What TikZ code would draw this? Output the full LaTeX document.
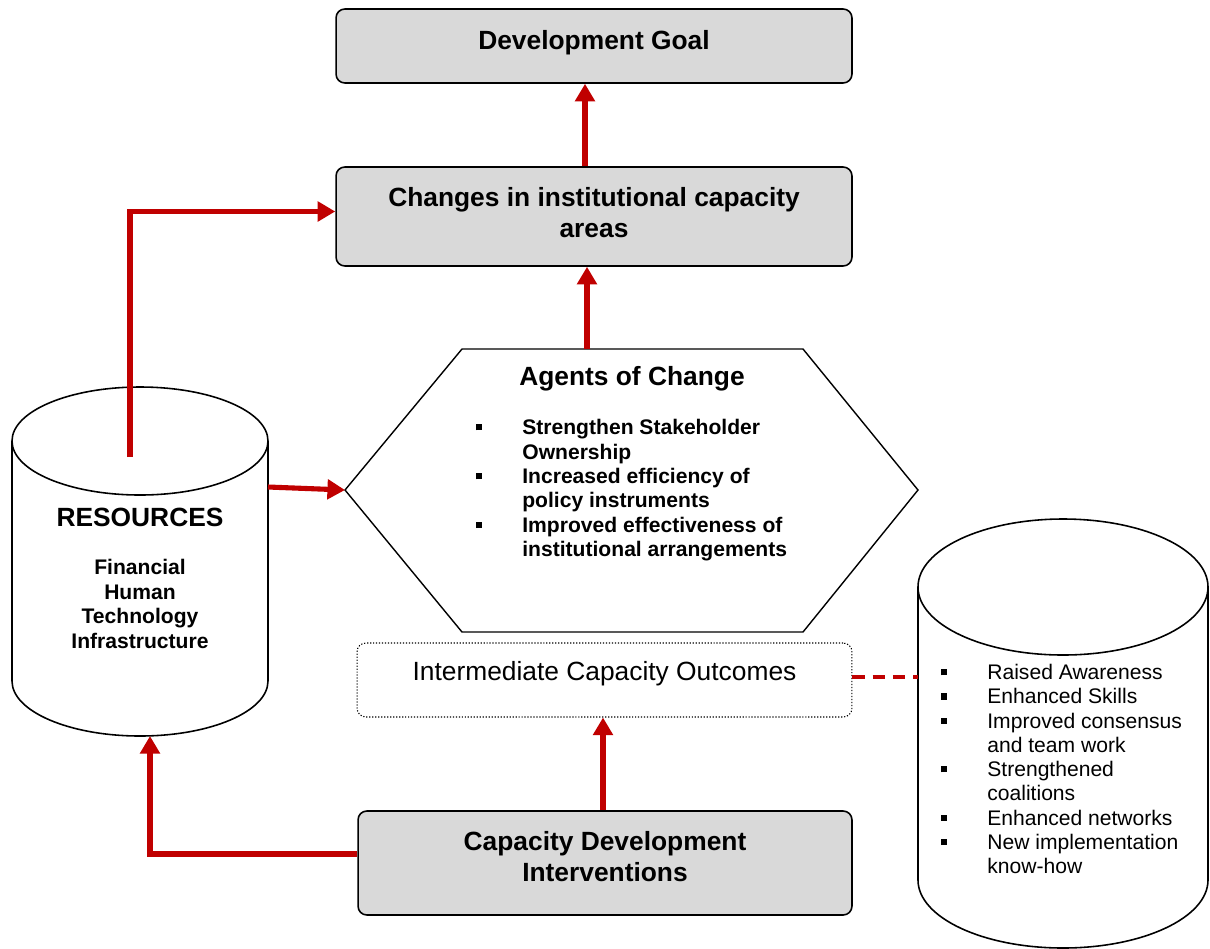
\documentclass[tikz,border=0pt]{standalone}
\usepackage{fontspec}
\setmainfont{Liberation Sans}
\usepackage{xcolor}
\usetikzlibrary{shapes.geometric,arrows.meta,positioning,calc}
\definecolor{flowred}{HTML}{C00000}
\definecolor{boxgray}{HTML}{D9D9D9}
\setlength{\parindent}{0pt}
\newcommand{\sqb}{\leavevmode\llap{\rule[2.4pt]{3.6pt}{3.6pt}\hspace{23pt}}}
\tikzset
{
    graybox/.style  = {rectangle, draw=black, line width=0.9pt, fill=boxgray, rounded corners=5pt, align=center, minimum width=10.32cm, font=\bfseries\fontsize{15}{17.6}\selectfont},
    interbox/.style = {rectangle, draw=black, line width=0.6pt, dash pattern=on 0.7pt off 1pt, rounded corners=5pt, minimum width=9.9cm, minimum height=1.48cm},
    cylline/.style  = {draw=black, line width=0.9pt},
    hexline/.style  = {draw=black, line width=0.8pt},
    redarrow/.style = {draw=flowred, line width=2.9pt, -{Triangle[length=10pt,width=11pt]}},
    reddash/.style  = {draw=flowred, line width=1.8pt, dash pattern=on 7pt off 4.5pt},
    bigbold/.style  = {font=\bfseries\fontsize{15}{18}\selectfont, inner sep=0pt},
    smallbold/.style = {font=\bfseries\fontsize{12}{13.9}\selectfont, inner sep=0pt},
    smallplain/.style = {font=\fontsize{12}{13.8}\selectfont, inner sep=0pt}
}

\begin{document}
\begin{tikzpicture}[x=0.02cm, y=-0.02cm]
    \useasboundingbox (0,0) rectangle (1210,948);

    % boxes
    \node [graybox, minimum height=1.48cm, text depth=6.6pt] (goal) at (594,46) {Development Goal};
    \node [graybox, minimum height=1.98cm, text depth=4.5pt] (changes) at (594,216.5) {Changes in institutional capacity\\areas};
    \node [graybox, minimum height=2.08cm, minimum width=9.88cm, text depth=7.4pt] (cdi) at (605,863) {Capacity Development\\Interventions};
    \node [interbox] (interm) at (604.5,680) {};
    \node [font=\fontsize{15}{18}\selectfont, inner sep=0pt] (intertext) at (604.5,674) {Intermediate Capacity Outcomes};

    % agents of change
    \coordinate (agL)  at (345,490);
    \coordinate (agTL) at (462,349);
    \coordinate (agTR) at (803,349);
    \coordinate (agR)  at (918,490);
    \coordinate (agBR) at (803,632);
    \coordinate (agBL) at (462,632);
    \coordinate (agtop) at (587,349);
    \draw [hexline] (agL) -- (agTL) -- (agTR) -- (agR) -- (agBR) -- (agBL) -- cycle;
    \node [bigbold] (agtitle) at (632,379) {Agents of Change};
    \node [smallbold, align=left, anchor=north west] (aglist) at (522,419)
    {
        \sqb Strengthen Stakeholder\\ Ownership\\
        \sqb Increased efficiency of\\ policy instruments\\
        \sqb Improved effectiveness of\\ institutional arrangements
    };

    % resources
    \draw [cylline] (12,441) -- (12,681) arc [start angle=180, end angle=0, x radius=128, y radius=55] -- (268,441);
    \draw [cylline] (140,441) ellipse [x radius=128, y radius=54];
    \coordinate (restop) at (130,457);
    \coordinate (resE)   at (268,487);
    \coordinate (resbot) at (150,736);
    \node [bigbold] (restitle) at (140,517) {RESOURCES};
    \node [smallbold, align=center] (reslist) at (140,604) {Financial\\Human\\Technology\\Infrastructure};

    % outcomes
    \draw [cylline] (918,587) -- (918,880) arc [start angle=180, end angle=0, x radius=145, y radius=68] -- (1208,587);
    \draw [cylline] (1063,587) ellipse [x radius=145, y radius=68];
    \coordinate (outW) at (918,677);
    \node [smallplain, align=left, anchor=north west] (outlist) at (987,664)
    {
        \sqb Raised Awareness\\
        \sqb Enhanced Skills\\
        \sqb Improved consensus\\ and team work\\
        \sqb Strengthened\\ coalitions\\
        \sqb Enhanced networks\\
        \sqb New implementation\\ know-how
    };

    % connectors
    \draw [redarrow] ($(changes.north)+(-9,0)$) -- ($(goal.south)+(-9,0)$);
    \draw [redarrow] (agtop) -- (agtop |- changes.south);
    \draw [redarrow] (restop) |- ($(changes.west)+(0,-5)$);
    \draw [redarrow] (resE) -- (agL);
    \draw [redarrow] ($(cdi.west)+(0,-9)$) -| (resbot);
    \draw [redarrow] ($(cdi.north)+(-2,0)$) -- ($(interm.south)+(-1.5,0)$);
    \draw [reddash] (interm.east |- outW) -- (outW);
\end{tikzpicture}
\end{document}
